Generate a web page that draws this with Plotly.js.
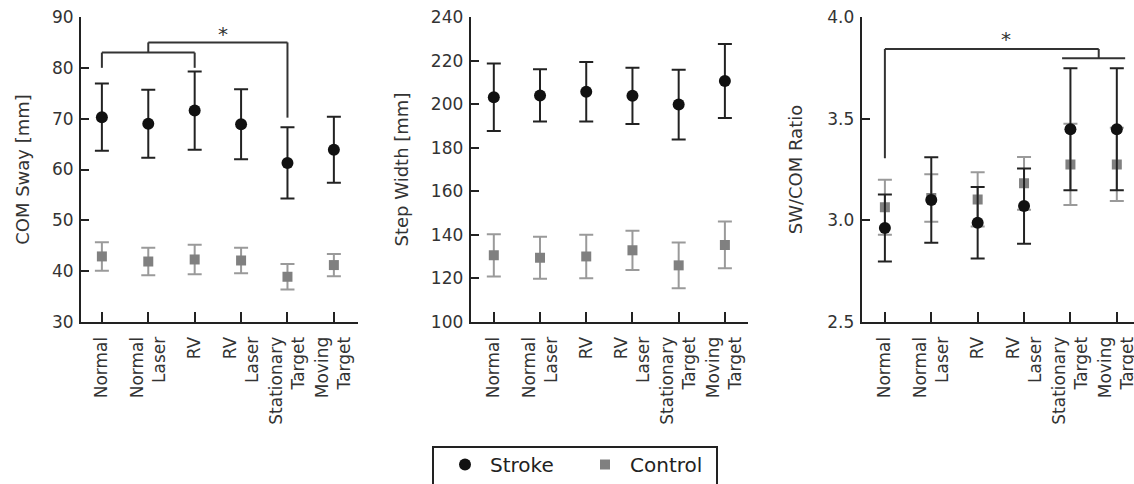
<!DOCTYPE html>
<html>
<head>
<meta charset="utf-8">
<script src="https://cdn.plot.ly/plotly-3.0.1.min.js"></script>
<style>html,body{margin:0;padding:0;overflow:hidden;background:#fff}</style>
</head>
<body>
<div id="chart"></div>
<script>
// ---- data ----
const categories = ["Normal", "Normal Laser", "RV", "RV Laser", "Stationary Target", "Moving Target"];
const tickLabels = ["Normal", "Normal<br>Laser", "RV", "RV<br>Laser", "Stationary<br>Target", "Moving<br>Target"];

const comStroke    = [70.3, 69.0, 71.6, 68.9, 61.3, 63.9];
const comStrokeErr = [6.6, 6.7, 7.7, 6.9, 7.0, 6.5];
const comControl    = [42.9, 41.9, 42.3, 42.1, 38.9, 41.2];
const comControlErr = [2.8, 2.7, 2.9, 2.5, 2.5, 2.2];

const swStroke    = [203.2, 204.0, 205.7, 203.8, 199.8, 210.6];
const swStrokeErr = [15.5, 12.0, 13.7, 12.9, 16.0, 17.0];
const swControl    = [130.6, 129.5, 130.1, 132.9, 126.0, 135.4];
const swControlErr = [9.7, 9.6, 10.0, 9.0, 10.5, 10.7];

const ratioStroke    = [2.962, 3.100, 2.988, 3.070, 3.448, 3.448];
const ratioStrokeErr = [0.165, 0.21, 0.176, 0.185, 0.30, 0.30];
const ratioControl    = [3.064, 3.110, 3.103, 3.182, 3.275, 3.275];
const ratioControlErr = [0.135, 0.117, 0.133, 0.13, 0.20, 0.18];

const yTitles = ["COM Sway [mm]", "Step Width [mm]", "SW/COM Ratio"];

// ---- layout helpers ----
const W = 1140, H = 492;
const xIdx = categories.map((c, i) => i);
const FONT = "DejaVu Sans, Verdana, sans-serif";
const AX = "#222";
const TXT = "#333";

function strokeTrace(y, e, xa, ya, show) {
  return {
    x: xIdx, y: y, xaxis: xa, yaxis: ya, type: "scatter", mode: "markers",
    name: "Stroke", legendgroup: "s", showlegend: show, legendrank: 1,
    marker: {symbol: "circle", size: 12, color: "#111"},
    error_y: {type: "data", array: e, visible: true, color: "#222", thickness: 2, width: 7}
  };
}
function controlTrace(y, e, xa, ya, show) {
  return {
    x: xIdx, y: y, xaxis: xa, yaxis: ya, type: "scatter", mode: "markers",
    name: "Control", legendgroup: "c", showlegend: show, legendrank: 2,
    marker: {symbol: "square", size: 10, color: "#808080"},
    error_y: {type: "data", array: e, visible: true, color: "#9a9a9a", thickness: 2, width: 7}
  };
}

const data = [
  controlTrace(comControl, comControlErr, "x", "y", true),
  strokeTrace(comStroke, comStrokeErr, "x", "y", true),
  controlTrace(swControl, swControlErr, "x2", "y2", false),
  strokeTrace(swStroke, swStrokeErr, "x2", "y2", false),
  controlTrace(ratioControl, ratioControlErr, "x3", "y3", false),
  strokeTrace(ratioStroke, ratioStrokeErr, "x3", "y3", false)
];

const ydom = [(H - 322) / H, (H - 17) / H];

function xaxis(dom, range, anchor) {
  return {
    domain: dom, range: range, anchor: anchor,
    tickvals: xIdx, ticktext: tickLabels, tickangle: -90,
    ticks: "inside", ticklen: 10, tickwidth: 2, tickcolor: AX,
    showline: true, linewidth: 2, linecolor: AX, showgrid: false, zeroline: false,
    tickfont: {family: FONT, size: 17, color: TXT}, ticklabelstandoff: 6
  };
}
function yaxis(range, dtick, fmt, title, standoff, anchor) {
  return {
    domain: ydom, range: range, dtick: dtick, tickformat: fmt, anchor: anchor,
    ticks: "inside", ticklen: 8, tickwidth: 2, tickcolor: AX,
    showline: true, linewidth: 2, linecolor: AX, showgrid: false, zeroline: false,
    tickfont: {family: FONT, size: 17, color: TXT}, ticklabelstandoff: 2,
    title: {text: title, font: {family: FONT, size: 18, color: TXT}, standoff: standoff}
  };
}

function seg(xr, yr, x0, y0, x1, y1) {
  return {type: "line", xref: xr, yref: yr, x0: x0, y0: y0, x1: x1, y1: y1,
          line: {color: "#333", width: 2}};
}

const shapes = [
  seg("x", "y", 0, 80, 0, 83), seg("x", "y", 0, 83, 2, 83), seg("x", "y", 2, 83, 2, 80),
  seg("x", "y", 1, 83, 1, 85), seg("x", "y", 1, 85, 4, 85), seg("x", "y", 4, 85, 4, 70.2),
  seg("x3", "y3", 0, 3.305, 0, 3.843), seg("x3", "y3", 0, 3.843, 4.61, 3.843),
  seg("x3", "y3", 4.61, 3.843, 4.61, 3.797), seg("x3", "y3", 3.82, 3.797, 5.18, 3.797),
  // legend frame
  {type: "rect", xref: "paper", yref: "paper", x0: 433 / W, x1: 717 / W,
   y0: -0.05, y1: (H - 447) / H, line: {color: "#222", width: 2}, fillcolor: "rgba(0,0,0,0)"}
];

const annotations = [
  {xref: "x", yref: "y", x: 2.6, y: 86.6, text: "*", showarrow: false,
   font: {family: FONT, size: 20, color: "#333"}},
  {xref: "x3", yref: "y3", x: 2.61, y: 3.89, text: "*", showarrow: false,
   font: {family: FONT, size: 20, color: "#333"}}
];

const layout = {
  width: W, height: H,
  margin: {l: 0, r: 0, t: 0, b: 0},
  paper_bgcolor: "#fff", plot_bgcolor: "#fff",
  font: {family: FONT, color: TXT},
  showlegend: true,
  xaxis: xaxis([81 / W, 358 / W], [-0.45, 5.52], "y"),
  xaxis2: xaxis([470.7 / W, 748 / W], [-0.5, 5.5], "y2"),
  xaxis3: xaxis([861.7 / W, 1.0], [-0.5, 5.5], "y3"),
  yaxis: yaxis([30, 90], 10, "d", yTitles[0], 18, "x"),
  yaxis2: yaxis([100, 240], 20, "d", yTitles[1], 18, "x2"),
  yaxis3: yaxis([2.5, 4.0], 0.5, ".1f", yTitles[2], 20, "x3"),
  legend: {
    orientation: "h", x: 440 / W, y: (H - 445) / H, xanchor: "left", yanchor: "top",
    borderwidth: 0, bgcolor: "rgba(0,0,0,0)", itemwidth: 40,
    entrywidth: 85, entrywidthmode: "pixels",
    font: {family: FONT, size: 20, color: "#222"}
  },
  shapes: shapes,
  annotations: annotations
};

Plotly.newPlot("chart", data, layout, {displayModeBar: false, staticPlot: true});
</script>
</body>
</html>
